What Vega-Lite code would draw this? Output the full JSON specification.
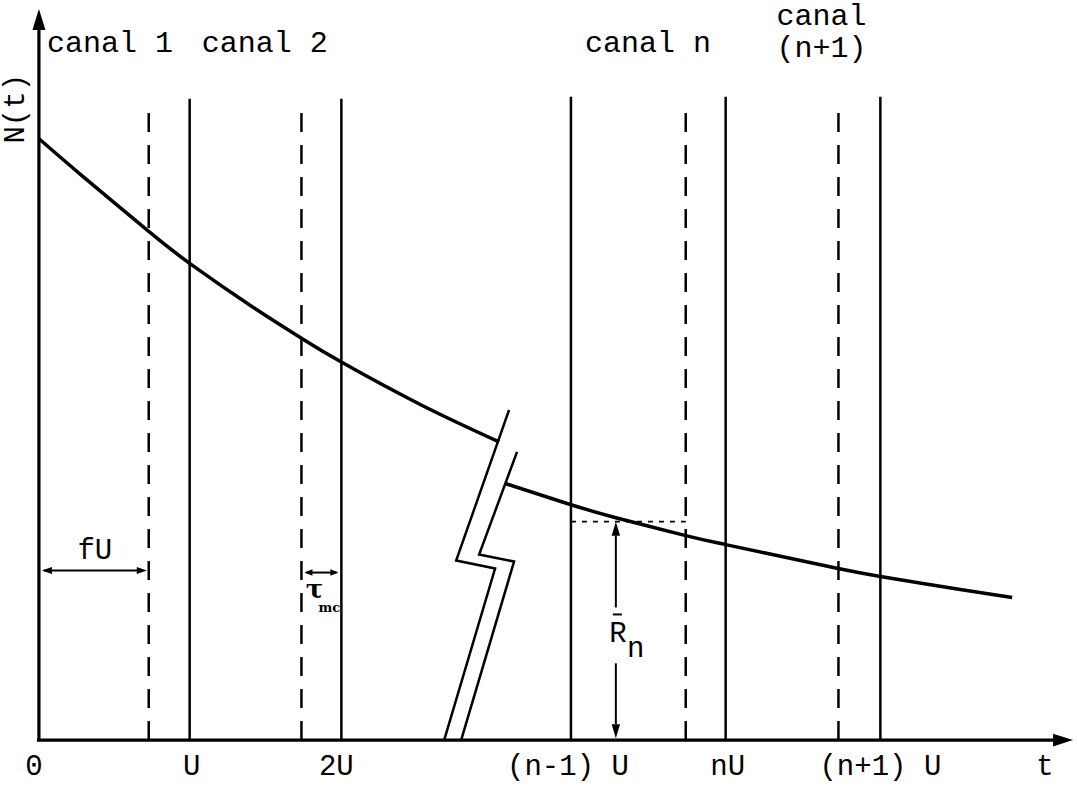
{
  "$schema": "https://vega.github.io/schema/vega-lite/v6.json",
  "width": 1077,
  "height": 789,
  "autosize": {"type": "fit", "contains": "padding"},
  "padding": 0,
  "background": "white",
  "config": {"view": {"stroke": null}},
  "datasets": {
    "axes": [
      {"x": -2, "y": 0, "x2": 1016, "y2": 0},
      {"x": 0, "y": 0, "x2": 0, "y2": 712}
    ],
    "solid": [
      {"x": 151, "y": 0, "x2": 151, "y2": 643},
      {"x": 303, "y": 0, "x2": 303, "y2": 643},
      {"x": 533, "y": 0, "x2": 533, "y2": 645},
      {"x": 688, "y": 0, "x2": 688, "y2": 645},
      {"x": 843, "y": 0, "x2": 843, "y2": 645}
    ],
    "dashed": [
      {"x": 110, "y": 0, "x2": 110, "y2": 635},
      {"x": 263, "y": 0, "x2": 263, "y2": 635},
      {"x": 648, "y": 0, "x2": 648, "y2": 640},
      {"x": 801, "y": 0, "x2": 801, "y2": 640}
    ],
    "dotted": [
      {"x": 533, "y": 219, "x2": 648, "y2": 219}
    ],
    "thin": [
      {"x": 5, "y": 170, "x2": 100, "y2": 170},
      {"x": 268, "y": 168, "x2": 298, "y2": 168},
      {"x": 578, "y": 205, "x2": 578, "y2": 133},
      {"x": 578, "y": 77, "x2": 578, "y2": 16},
      {"x": 575, "y": 126, "x2": 584, "y2": 126}
    ],
    "curves": [
      {"seg": "a", "o": 0, "x": 0, "y": 603},
      {"seg": "a", "o": 1, "x": 43, "y": 566},
      {"seg": "a", "o": 2, "x": 110, "y": 510},
      {"seg": "a", "o": 3, "x": 151, "y": 478},
      {"seg": "a", "o": 4, "x": 213, "y": 435},
      {"seg": "a", "o": 5, "x": 263, "y": 403},
      {"seg": "a", "o": 6, "x": 303, "y": 379},
      {"seg": "a", "o": 7, "x": 383, "y": 336},
      {"seg": "a", "o": 8, "x": 461, "y": 299},
      {"seg": "b", "o": 0, "x": 468, "y": 257},
      {"seg": "b", "o": 1, "x": 533, "y": 236},
      {"seg": "b", "o": 2, "x": 578, "y": 223},
      {"seg": "b", "o": 3, "x": 648, "y": 205},
      {"seg": "b", "o": 4, "x": 688, "y": 196},
      {"seg": "b", "o": 5, "x": 763, "y": 180},
      {"seg": "b", "o": 6, "x": 801, "y": 172},
      {"seg": "b", "o": 7, "x": 843, "y": 164},
      {"seg": "b", "o": 8, "x": 923, "y": 151},
      {"seg": "b", "o": 9, "x": 975, "y": 143}
    ],
    "breaks": [
      {"seg": "l", "o": 0, "x": 471, "y": 331},
      {"seg": "l", "o": 1, "x": 418, "y": 180},
      {"seg": "l", "o": 2, "x": 457, "y": 172},
      {"seg": "l", "o": 3, "x": 406, "y": 0},
      {"seg": "r", "o": 0, "x": 479, "y": 289},
      {"seg": "r", "o": 1, "x": 441, "y": 186},
      {"seg": "r", "o": 2, "x": 476, "y": 179},
      {"seg": "r", "o": 3, "x": 423, "y": 0}
    ],
    "heads": [
      {"x": 0, "y": 712, "shape": "M0,-1L0.31,0L-0.31,0Z", "size": 1764},
      {"x": 1016, "y": 0, "shape": "M1,0L0,-0.32L0,0.32Z", "size": 1600},
      {"x": 13, "y": 170, "shape": "M-1,0L0,-0.35L0,0.35Z", "size": 400},
      {"x": 98, "y": 170, "shape": "M1,0L0,-0.35L0,0.35Z", "size": 400},
      {"x": 274, "y": 168, "shape": "M-1,0L0,-0.4L0,0.4Z", "size": 256},
      {"x": 292, "y": 168, "shape": "M1,0L0,-0.4L0,0.4Z", "size": 256},
      {"x": 578, "y": 205, "shape": "M0,-1L0.3,0L-0.3,0Z", "size": 784},
      {"x": 578, "y": 16, "shape": "M0,1L0.3,0L-0.3,0Z", "size": 784}
    ],
    "labels": [
      {"text": "0", "x": -5, "y": -35, "size": 29, "angle": 0},
      {"text": "U", "x": 153, "y": -35, "size": 29, "angle": 0},
      {"text": "2U", "x": 298, "y": -35, "size": 29, "angle": 0},
      {"text": "(n-1) U", "x": 530, "y": -35, "size": 29, "angle": 0},
      {"text": "nU", "x": 690, "y": -35, "size": 29, "angle": 0},
      {"text": "(n+1) U", "x": 843, "y": -35, "size": 29, "angle": 0},
      {"text": "t", "x": 1008, "y": -35, "size": 29, "angle": 0},
      {"text": "fU", "x": 56, "y": 182, "size": 29, "angle": 0},
      {"text": "R", "x": 580, "y": 98, "size": 29, "angle": 0},
      {"text": "n", "x": 598, "y": 83, "size": 29, "angle": 0},
      {"text": "N(t)", "x": -15, "y": 633, "size": 29, "angle": 270}
    ],
    "sublabels": [
      {"text": "τ", "x": 276, "y": 142, "size": 26},
      {"text": "mc", "x": 291, "y": 128, "size": 13}
    ],
    "toplabels": [
      {"text": "canal 1", "x": 8, "y": 690},
      {"text": "canal 2", "x": 163, "y": 690},
      {"text": "canal n", "x": 547, "y": 690},
      {"text": "(n+1)", "x": 739, "y": 685},
      {"text": "canal", "x": 739, "y": 717}
    ]
  },
  "encoding": {
    "x": {"field": "x", "type": "quantitative", "scale": {"domain": [-37, 1040], "nice": false, "zero": false}, "axis": null},
    "y": {"field": "y", "type": "quantitative", "scale": {"domain": [-49, 740], "nice": false, "zero": false}, "axis": null}
  },
  "layer": [
    {
      "data": {"name": "solid"},
      "mark": {"type": "rule", "color": "black", "strokeWidth": 2.5},
      "encoding": {"x2": {"field": "x2"}, "y2": {"field": "y2"}}
    },
    {
      "data": {"name": "dashed"},
      "mark": {"type": "rule", "color": "black", "strokeWidth": 2.5, "strokeDash": [19, 13]},
      "encoding": {"x2": {"field": "x2"}, "y2": {"field": "y2"}}
    },
    {
      "data": {"name": "dotted"},
      "mark": {"type": "rule", "color": "black", "strokeWidth": 1.8, "strokeDash": [5, 6]},
      "encoding": {"x2": {"field": "x2"}, "y2": {"field": "y2"}}
    },
    {
      "data": {"name": "thin"},
      "mark": {"type": "rule", "color": "black", "strokeWidth": 2},
      "encoding": {"x2": {"field": "x2"}, "y2": {"field": "y2"}}
    },
    {
      "data": {"name": "axes"},
      "mark": {"type": "rule", "color": "black", "strokeWidth": 3.2},
      "encoding": {"x2": {"field": "x2"}, "y2": {"field": "y2"}}
    },
    {
      "data": {"name": "breaks"},
      "mark": {"type": "line", "color": "black", "strokeWidth": 2.5, "interpolate": "linear", "strokeJoin": "miter"},
      "encoding": {"detail": {"field": "seg"}, "order": {"field": "o", "type": "quantitative"}}
    },
    {
      "data": {"name": "curves"},
      "mark": {"type": "line", "color": "black", "strokeWidth": 3.5, "interpolate": "natural"},
      "encoding": {"detail": {"field": "seg"}, "order": {"field": "o", "type": "quantitative"}}
    },
    {
      "data": {"name": "heads"},
      "mark": {"type": "point", "filled": true, "color": "black", "opacity": 1, "strokeWidth": 0},
      "encoding": {
        "shape": {"field": "shape", "type": "nominal", "scale": null},
        "size": {"field": "size", "type": "quantitative", "scale": null}
      }
    },
    {
      "data": {"name": "labels"},
      "mark": {"type": "text", "font": "Liberation Mono", "color": "black", "align": "center", "baseline": "alphabetic"},
      "encoding": {
        "text": {"field": "text"},
        "size": {"field": "size", "type": "quantitative", "scale": null},
        "angle": {"field": "angle", "type": "quantitative", "scale": null}
      }
    },
    {
      "data": {"name": "sublabels"},
      "mark": {"type": "text", "font": "DejaVu Serif", "fontWeight": "bold", "color": "black", "align": "center", "baseline": "alphabetic"},
      "encoding": {
        "text": {"field": "text"},
        "size": {"field": "size", "type": "quantitative", "scale": null}
      }
    },
    {
      "data": {"name": "toplabels"},
      "mark": {"type": "text", "font": "Liberation Mono", "fontSize": 30, "color": "black", "align": "left", "baseline": "alphabetic"},
      "encoding": {"text": {"field": "text"}}
    }
  ]
}
